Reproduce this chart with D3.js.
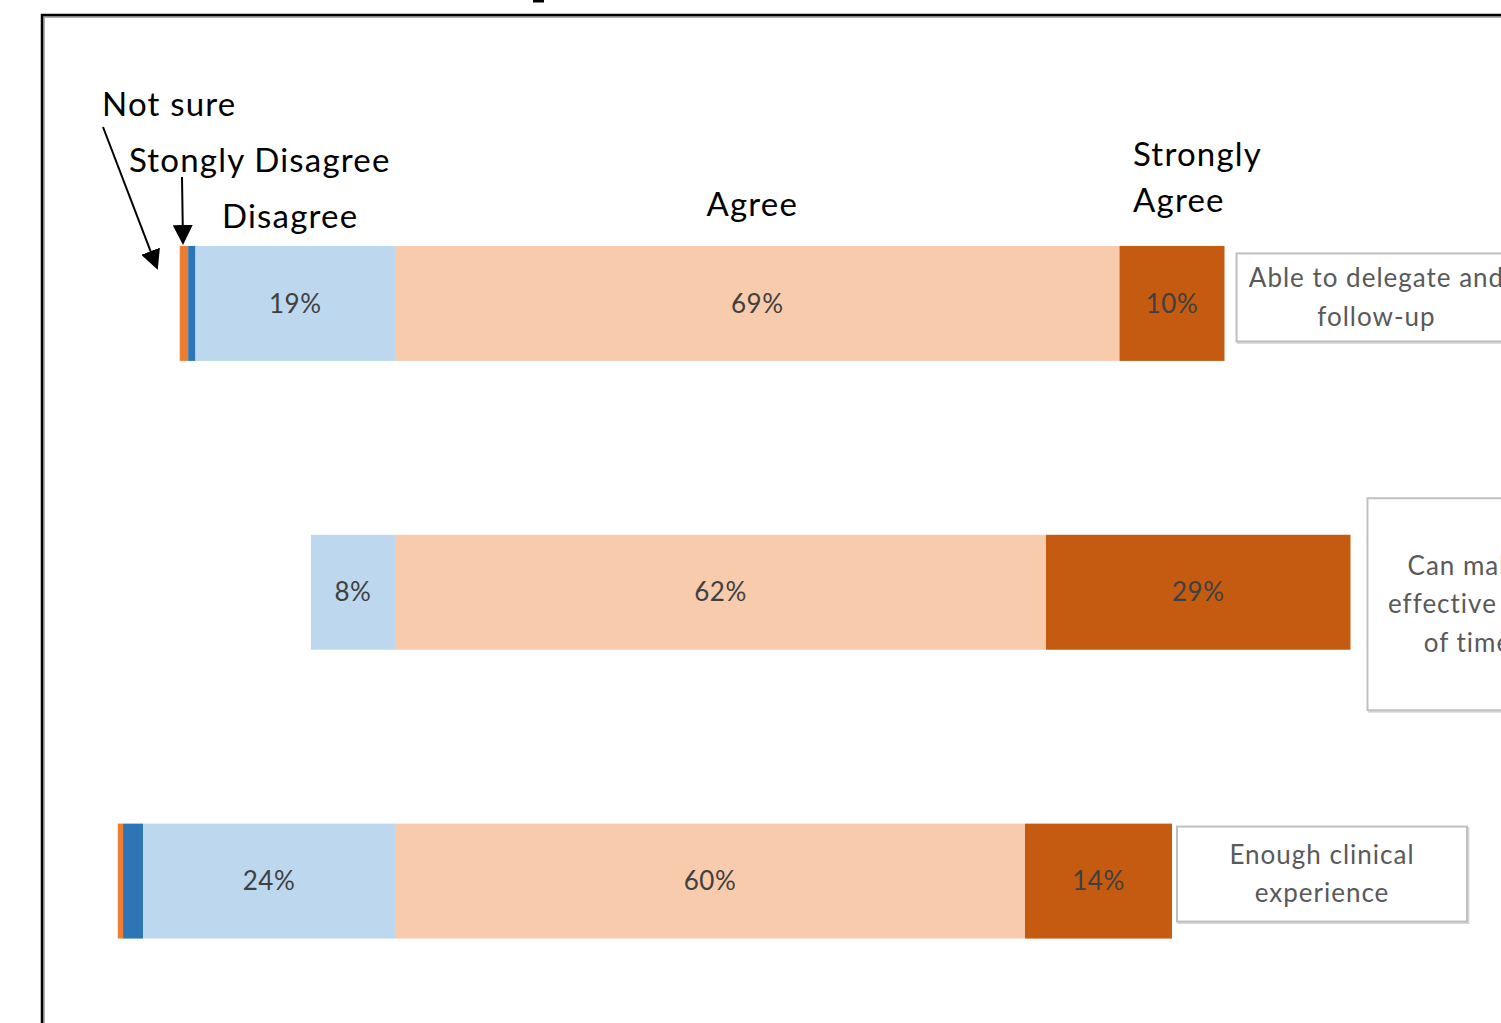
<!DOCTYPE html>
<html>
<head>
<meta charset="utf-8">
<script src="https://cdn.jsdelivr.net/npm/d3@7"></script>
<style>
  html, body { margin: 0; padding: 0; background: #fff; overflow: hidden; }
  svg { display: block; }
</style>
</head>
<body>
<svg id="chart" width="1501" height="1023"></svg>
<script>
// Survey items (top to bottom) and response shares in percent
const categories = ["Able to delegate and follow-up", "Can make effective use of time", "Enough clinical experience"];
const categoryLines = [["Able to delegate and", "follow-up"], ["Can make", "effective use", "of time"], ["Enough clinical", "experience"]];
const notSure = [0.8, 0, 0.5];
const stronglyDisagree = [0.7, 0, 1.9];
const disagree = [19, 8, 24];
const agree = [69, 62, 60];
const stronglyAgree = [10, 29, 14];

const seriesNames = ["Not sure", "Stongly Disagree", "Disagree", "Agree", "Strongly Agree"];
const seriesColors = ["#ED7D31", "#2E75B6", "#BDD7EE", "#F8CBAD", "#C55A11"];

const svg = d3.select("#chart");
const W = 1501, H = 1023;

// Outer frame of the chart area
svg.append("path").attr("d", `M44,${H} V17 H${W}`).attr("fill", "none").attr("stroke", "#b0b0b0").attr("stroke-width", 2);
svg.append("path").attr("d", `M42,${H} V15 H${W}`).attr("fill", "none").attr("stroke", "#000").attr("stroke-width", 2.5);
svg.append("rect").attr("x", 533).attr("y", 0).attr("width", 11).attr("height", 2.5).attr("fill", "#000");

// Diverging layout: the negative side grows left from the Disagree/Agree boundary
const pxPerPct = 10.5;
const x = d3.scaleLinear().domain([-50, 100]).range([395 - 50 * pxPerPct, 395 + 100 * pxPerPct]);
const y = d3.scaleBand().domain(categories).range([159, 1025.5]).paddingInner(0.602).paddingOuter(0.301);

const rows = categories.map((c, i) => {
  const vals = [notSure[i], stronglyDisagree[i], disagree[i], agree[i], stronglyAgree[i]];
  const leftTotal = vals[0] + vals[1] + vals[2];
  let start = -leftTotal;
  const segs = vals.map((v, k) => {
    const s = { cat: c, k, v, x0: start, x1: start + v };
    start += v;
    return s;
  });
  return { cat: c, i, segs, end: start };
});

const g = svg.append("g");
rows.forEach(r => {
  g.selectAll(null).data(r.segs.filter(s => s.v > 0)).join("rect")
    .attr("x", s => x(s.x0))
    .attr("y", y(r.cat))
    .attr("width", s => x(s.x1) - x(s.x0))
    .attr("height", y.bandwidth())
    .attr("fill", s => seriesColors[s.k]);

  g.selectAll(null).data(r.segs.filter(s => s.k >= 2 && s.v > 0)).join("text")
    .attr("x", s => (x(s.x0) + x(s.x1)) / 2)
    .attr("y", y(r.cat) + y.bandwidth() / 2)
    .attr("dy", "0.35em")
    .attr("text-anchor", "middle")
    .attr("font-family", "Lato, 'Open Sans', sans-serif")
    .attr("font-size", 26)
    .attr("letter-spacing", 0.5)
    .attr("fill", "#404040")
    .text(s => d3.format(".0f")(s.v) + "%");
});

// Category name boxes placed just right of each bar
const boxSize = [[280, 88], [200, 212], [290, 95]];
const boxGap = [12, 17, 5];
const boxShift = [-6, 12, -7];
rows.forEach((r, i) => {
  const bx = x(r.end) + boxGap[i];
  const [bw, bh] = boxSize[i];
  const cy = y(r.cat) + y.bandwidth() / 2 + boxShift[i];
  svg.append("rect").attr("x", bx + 1.5).attr("y", cy - bh / 2 + 1.5).attr("width", bw).attr("height", bh)
    .attr("fill", "none").attr("stroke", "#d9d9d9").attr("stroke-width", 2);
  svg.append("rect").attr("x", bx).attr("y", cy - bh / 2).attr("width", bw).attr("height", bh)
    .attr("fill", "#fff").attr("stroke", "#bfbfbf").attr("stroke-width", 2);
  const lines = categoryLines[i];
  const lh = 38.5;
  svg.append("g").selectAll("text").data(lines).join("text")
    .attr("x", bx + bw / 2)
    .attr("y", (d, j) => cy + (j - (lines.length - 1) / 2) * lh)
    .attr("dy", "0.35em")
    .attr("text-anchor", "middle")
    .attr("font-family", "Lato, 'Open Sans', sans-serif")
    .attr("font-size", 26)
    .attr("letter-spacing", 1)
    .attr("fill", "#595959")
    .text(d => d);
});

// Series captions above the first bar
const first = rows[0];
const segX = k => x((first.segs[k].x0 + first.segs[k].x1) / 2);
const caption = svg.append("g")
  .attr("font-family", "Lato, 'Open Sans', sans-serif")
  .attr("font-size", 33)
  .attr("letter-spacing", 1.2)
  .attr("fill", "#000");
caption.append("text").attr("x", 102).attr("y", 116).text(seriesNames[0]);
caption.append("text").attr("x", 129).attr("y", 172).text(seriesNames[1]);
caption.append("text").attr("x", 222).attr("y", 228).text(seriesNames[2]);
caption.append("text").attr("x", segX(3) - 5).attr("y", 216).attr("text-anchor", "middle").text(seriesNames[3]);
caption.append("text").attr("x", 1133).attr("y", 166).text("Strongly");
caption.append("text").attr("x", 1133).attr("y", 212).text("Agree");

// Arrows pointing at the two thin segments
svg.append("defs").append("marker")
  .attr("id", "head").attr("viewBox", "0 0 10 10").attr("refX", 9).attr("refY", 5)
  .attr("markerWidth", 20).attr("markerHeight", 20).attr("markerUnits", "userSpaceOnUse")
  .attr("orient", "auto")
  .append("path").attr("d", "M0,0 L10,5 L0,10 Z").attr("fill", "#000");

svg.append("line").attr("x1", 103).attr("y1", 127).attr("x2", 157).attr("y2", 268)
  .attr("stroke", "#000").attr("stroke-width", 2).attr("marker-end", "url(#head)");
svg.append("line").attr("x1", 182).attr("y1", 177).attr("x2", 183).attr("y2", 243)
  .attr("stroke", "#000").attr("stroke-width", 2).attr("marker-end", "url(#head)");
</script>
</body>
</html>
